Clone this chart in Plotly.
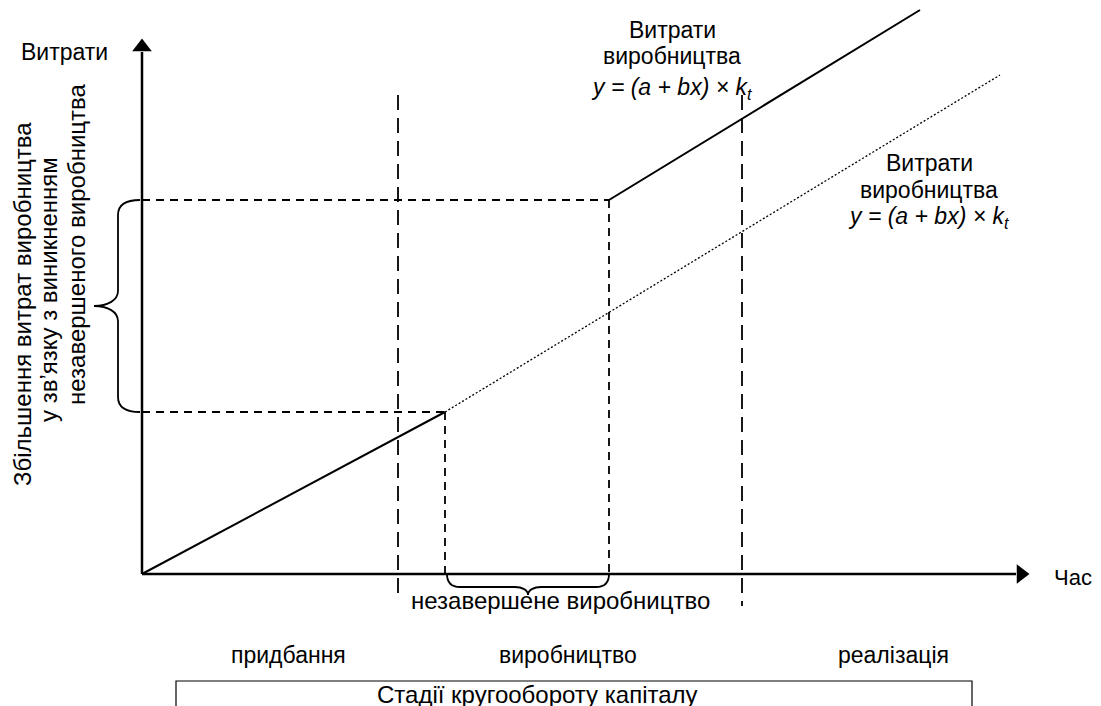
import plotly.graph_objects as go

# Data (diagram units: origin of the axes at 0,0)
axis_y_end = 534
axis_x_end = 886
cost_low_x = [0, 303]          # initial production cost segment
cost_low_y = [0, 162]
cost_dot_x = [303, 858]        # continued (dotted) cost line
cost_dot_y = [162, 499]
cost_high_x = [467, 778]       # raised cost line
cost_high_y = [374, 564]
wip_start = 303                # start of work-in-progress
wip_end = 467                  # end of work-in-progress
level_low = 162
level_high = 374
stage_borders = [256, 600]
stage_border_top = 479
stage_border_bottom = [-26, -32]

stage_labels = ["придбання", "виробництво", "реалізація"]
stage_label_x = [146, 426, 751]

FONT = "Liberation Sans, Arial, sans-serif"
BLACK = "#000000"

fig = go.Figure()

def line(xs, ys, width=2, dash="solid"):
    fig.add_trace(go.Scatter(x=xs, y=ys, mode="lines",
                             line=dict(color=BLACK, width=width, dash=dash),
                             hoverinfo="skip", showlegend=False))

# axes
line([0, 0], [0, axis_y_end - 12], width=2.5)
line([0, axis_x_end - 12], [0, 0], width=2.5)
fig.add_trace(go.Scatter(x=[0], y=[axis_y_end - 7], mode="markers",
                         marker=dict(symbol="triangle-up", size=17, color=BLACK),
                         hoverinfo="skip", showlegend=False))
fig.add_trace(go.Scatter(x=[axis_x_end - 7], y=[0], mode="markers",
                         marker=dict(symbol="triangle-right", size=17, color=BLACK),
                         hoverinfo="skip", showlegend=False))

# cost lines
line(cost_low_x, cost_low_y, width=2)
line(cost_dot_x, cost_dot_y, width=1.3, dash="2px,2px")
line(cost_high_x, cost_high_y, width=2)

# guide dashed lines
line([0, wip_start], [level_low, level_low], width=1.8, dash="8px,6px")
line([wip_start, wip_start], [level_low, 0], width=1.8, dash="8px,6px")
line([0, wip_end], [level_high, level_high], width=1.8, dash="8px,6px")
line([wip_end, wip_end], [level_high, 0], width=1.8, dash="8px,6px")

# stage borders (long dashes)
for bx, bb in zip(stage_borders, stage_border_bottom):
    line([bx, bx], [stage_border_top, bb], width=1.8, dash="15px,8px")

# braces
def vbrace(x0, y0, y1, depth, tip):
    ym = (y0 + y1) / 2
    xb = x0 - depth
    xt = x0 - tip
    r = 15
    return (f"M {x0},{y1} C {xb+8},{y1} {xb},{y1-4} {xb},{y1-r} "
            f"L {xb},{ym+r} C {xb},{ym+6} {xb-10},{ym} {xt},{ym} "
            f"C {xb-10},{ym} {xb},{ym-6} {xb},{ym-r} "
            f"L {xb},{y0+r} C {xb},{y0+4} {xb+8},{y0} {x0},{y0}")

def hbrace(x0, x1, y0, depth, tip):
    xm = (x0 + x1) / 2
    yb = y0 - depth
    yt = y0 - tip
    r = 13
    return (f"M {x0},{y0} C {x0},{yb+4} {x0+4},{yb} {x0+r},{yb} "
            f"L {xm-r},{yb} C {xm-6},{yb} {xm},{yb-3} {xm},{yt} "
            f"C {xm},{yb-3} {xm+6},{yb} {xm+r},{yb} "
            f"L {x1-r},{yb} C {x1-4},{yb} {x1},{yb+4} {x1},{y0}")

fig.add_shape(type="path", path=vbrace(-2, level_low, level_high, 22, 46),
              xref="x", yref="y", line=dict(color=BLACK, width=1.8))
fig.add_shape(type="path", path=hbrace(wip_start + 2, wip_end, 0, 13, 21),
              xref="x", yref="y", line=dict(color=BLACK, width=1.8))

# stage box
fig.add_shape(type="rect", x0=34, x1=830, y0=-107, y1=-150, xref="x", yref="y",
              line=dict(color=BLACK, width=1.2), fillcolor="rgba(0,0,0,0)")

def txt(x, y, s, size=23, angle=0):
    fig.add_annotation(x=x, y=y, text=s, showarrow=False, xref="x", yref="y",
                       xanchor="center", yanchor="middle", textangle=angle,
                       font=dict(family=FONT, size=size, color=BLACK))

formula = "<i>y = (a + bx) × k<sub>t</sub></i>"
txt(-78, 522, "Витрати")
txt(931, -3, "Час", size=22)
txt(530, 544, "Витрати")
txt(530, 518, "виробництва")
txt(530, 486, formula)
txt(787, 411, "Витрати")
txt(787, 384, "виробництва")
txt(787, 357, formula)
txt(418, -26, "незавершене виробництво", size=24)
for lx, lab in zip(stage_label_x, stage_labels):
    txt(lx, -81, lab)
txt(395, -120, "Стадії кругообороту капіталу", size=24)
txt(-120, 270, "Збільшення витрат виробництва", size=24, angle=-90)
txt(-94, 284, "у зв’язку з виникненням", size=24, angle=-90)
txt(-66, 330, "незавершеного виробництва", size=24, angle=-90)

# page body has an 8px margin: shift ranges so the diagram lands in place
fig.update_layout(
    width=1101, height=706,
    margin=dict(l=0, r=0, t=0, b=0),
    plot_bgcolor="white", paper_bgcolor="white",
    xaxis=dict(range=[-134, 967], visible=False, fixedrange=True),
    yaxis=dict(range=[-140, 566], visible=False, fixedrange=True),
    showlegend=False,
)

fig.write_html("out.html")
